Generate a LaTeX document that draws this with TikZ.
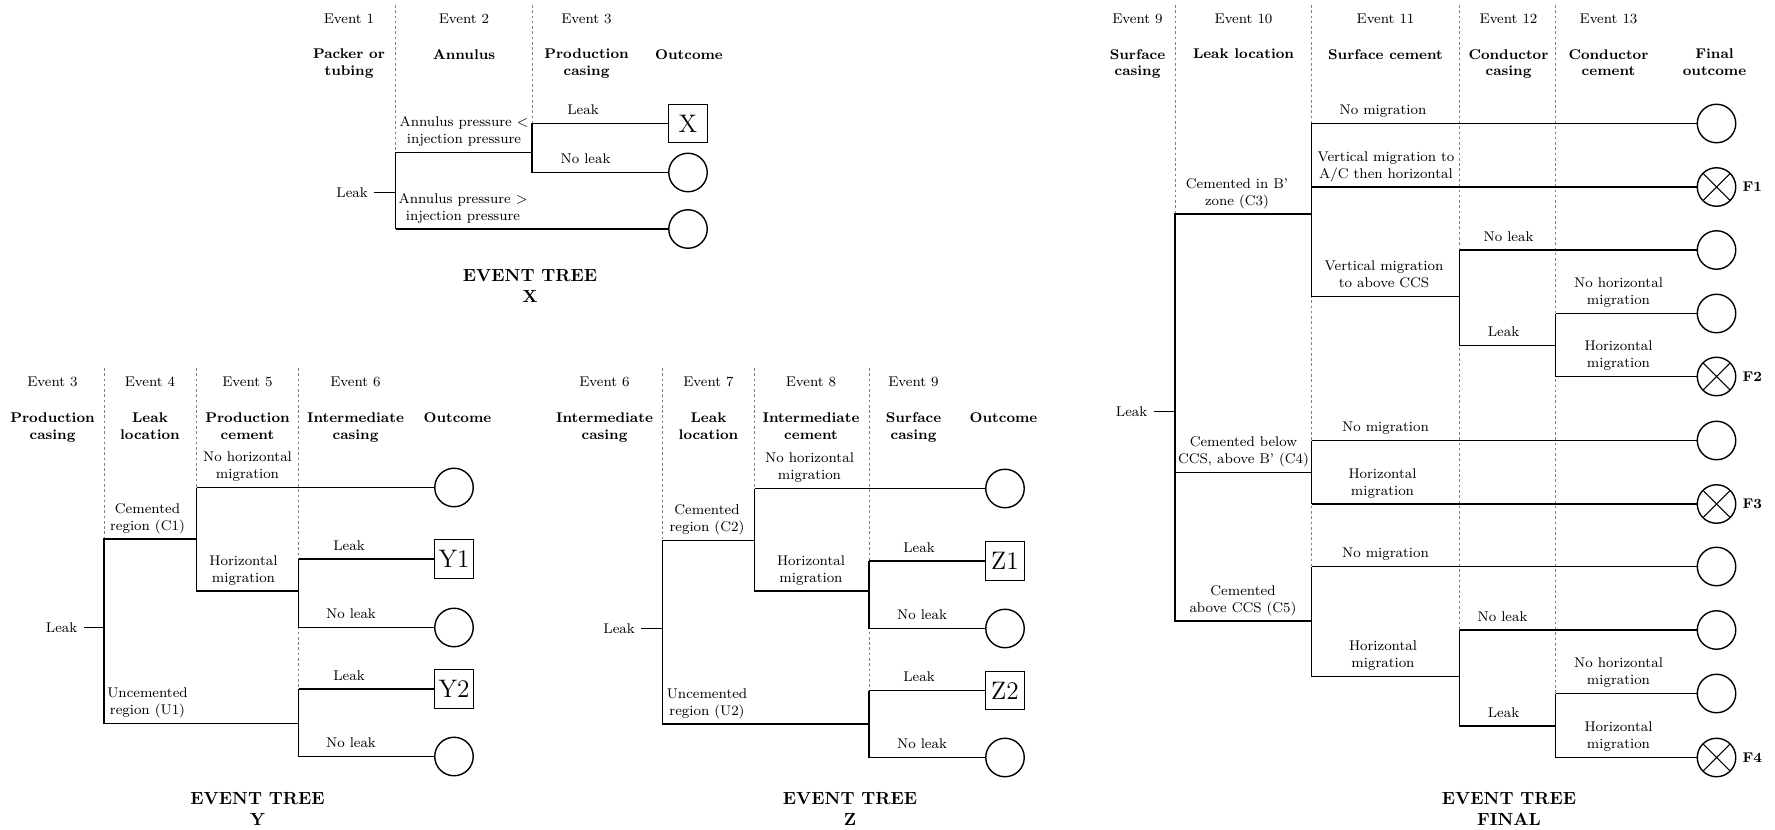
\documentclass[tikz,border=0pt]{standalone}
\usepackage{amsmath}
\usetikzlibrary{positioning}

\tikzset{
  branch/.style={line width=1.1pt},
  colsep/.style={gray, very thin, dash pattern=on 1.5pt off 1.5pt},
  evt/.style={font=\footnotesize},
  head/.style={font=\footnotesize\bfseries, align=center, anchor=north},
  lab/.style={above, font=\footnotesize, align=center, text depth=0.15em},
  leaf/.style={draw, circle, thick, minimum size=0.77cm, inner sep=0pt},
  endbox/.style={draw, thick, minimum size=0.77cm, inner sep=1pt, font=\Large},
  fail/.style={leaf, path picture={\draw[semithick] (path picture bounding box.north west) -- (path picture bounding box.south east) (path picture bounding box.north east) -- (path picture bounding box.south west);}},
  flab/.style={font=\footnotesize\bfseries},
  title/.style={font=\bfseries, align=center, anchor=north}
}

\begin{document}
\begin{tikzpicture}
\useasboundingbox (0,0) rectangle (35.5,-16.6);

\begin{scope}[xshift=7.91cm]
  \coordinate (topX) at (0,-0.1);
  \node (eX1) [evt] at (-0.93,-0.37) {Event 1};
  \node (eX2) [evt] at (1.37,-0.37) {Event 2};
  \node (eX3) [evt] at (3.82,-0.37) {Event 3};
  \node (hX1) [head] at (-0.93,-0.86) {Packer or\\tubing};
  \node (hX2) [head] at (1.37,-0.86) {Annulus};
  \node (hX3) [head] at (3.82,-0.86) {Production\\casing};
  \node (hX4) [head] at (5.87,-0.86) {Outcome};

  \coordinate (x0) at (0,-3.85);
  \coordinate (x1) at (0,-3.05);
  \coordinate (x2) at (0,-4.58);
  \coordinate (x3) at (2.73,-2.47);
  \coordinate (x4) at (2.73,-3.45);

  \node (oX) [endbox] at (5.85,-2.47) {X};
  \node (oX1) [leaf] at (5.85,-3.45) {};
  \node (oX2) [leaf] at (5.85,-4.58) {};
  \node (leakX) [evt, left=0.43cm of x0] {Leak};

  \draw[colsep] (topX) -- (x1);
  \draw[colsep] (x3 |- topX) -- (x3);

  \draw[branch] (leakX) -- (x0);
  \draw[branch] (x2) -- (x1) -- (x1 -| x3);
  \draw[branch] (x3) -- (x4);
  \draw[branch] (x3) -- (oX);
  \draw[branch] (x4) -- (oX1);
  \draw[branch] (x2) -- (oX2);

  \node (lX1) [lab] at (1.37,-3.05) {Annulus pressure $<$\\injection pressure};
  \node (lX2) [lab] at (1.35,-4.58) {Annulus pressure $>$\\injection pressure};
  \node (lX3) [lab] at (3.75,-2.47) {Leak};
  \node (lX4) [lab] at (3.8,-3.45) {No leak};

  \node (tX) [title] at (2.69,-5.27) {EVENT TREE\\X};
\end{scope}

\begin{scope}[xshift=2.08cm]
  \coordinate (topY) at (0,-7.36);
  \node (eY1) [evt] at (-1.03,-7.63) {Event 3};
  \node (eY2) [evt] at (0.92,-7.63) {Event 4};
  \node (eY3) [evt] at (2.87,-7.63) {Event 5};
  \node (eY4) [evt] at (5.03,-7.63) {Event 6};
  \node (hY1) [head] at (-1.03,-8.13) {Production\\casing};
  \node (hY2) [head] at (0.92,-8.13) {Leak\\location};
  \node (hY3) [head] at (2.87,-8.13) {Production\\cement};
  \node (hY4) [head] at (5.03,-8.13) {Intermediate\\casing};
  \node (hY5) [head] at (7.07,-8.13) {Outcome};

  \coordinate (y0) at (0,-12.55);
  \coordinate (y1) at (0,-10.78);
  \coordinate (y2) at (0,-14.47);
  \coordinate (y3) at (1.85,-9.75);
  \coordinate (y4) at (1.85,-11.82);
  \coordinate (y5) at (3.89,-11.18);
  \coordinate (y6) at (3.89,-12.55);
  \coordinate (y7) at (3.89,-13.78);
  \coordinate (y8) at (3.89,-15.13);

  \node (oY1) [leaf] at (7.0,-9.75) {};
  \node (oYa) [endbox] at (7.0,-11.18) {Y1};
  \node (oY2) [leaf] at (7.0,-12.55) {};
  \node (oYb) [endbox] at (7.0,-13.78) {Y2};
  \node (oY3) [leaf] at (7.0,-15.13) {};
  \node (leakY) [evt, left=0.41cm of y0] {Leak};

  \draw[colsep] (topY) -- (y1);
  \draw[colsep] (y3 |- topY) -- (y3);
  \draw[colsep] (y7 |- topY) -- (y7);

  \draw[branch] (leakY) -- (y0);
  \draw[branch] (y1 -| y3) -- (y1) -- (y2) -- (y2 -| y7);
  \draw[branch] (y3) -- (y4) -- (y4 -| y5);
  \draw[branch] (y5) -- (y6);
  \draw[branch] (y7) -- (y8);
  \draw[branch] (y3) -- (oY1);
  \draw[branch] (y5) -- (oYa);
  \draw[branch] (y6) -- (oY2);
  \draw[branch] (y7) -- (oYb);
  \draw[branch] (y8) -- (oY3);

  \node (lY1) [lab] at (0.87,-10.78) {Cemented\\region (C1)};
  \node (lY2) [lab] at (0.87,-14.47) {Uncemented\\region (U1)};
  \node (lY3) [lab] at (2.87,-9.75) {No horizontal\\migration};
  \node (lY4) [lab] at (2.79,-11.82) {Horizontal\\migration};
  \node (lY5) [lab] at (4.9,-11.18) {Leak};
  \node (lY6) [lab] at (4.94,-12.55) {No leak};
  \node (lY7) [lab] at (4.9,-13.78) {Leak};
  \node (lY8) [lab] at (4.94,-15.13) {No leak};

  \node (tY) [title] at (3.07,-15.72) {EVENT TREE\\Y};
\end{scope}

\begin{scope}[xshift=13.25cm]
  \coordinate (topZ) at (0,-7.36);
  \node (eZ1) [evt] at (-1.16,-7.63) {Event 6};
  \node (eZ2) [evt] at (0.92,-7.63) {Event 7};
  \node (eZ3) [evt] at (2.97,-7.63) {Event 8};
  \node (eZ4) [evt] at (5.02,-7.63) {Event 9};
  \node (hZ1) [head] at (-1.16,-8.13) {Intermediate\\casing};
  \node (hZ2) [head] at (0.92,-8.13) {Leak\\location};
  \node (hZ3) [head] at (2.97,-8.13) {Intermediate\\cement};
  \node (hZ4) [head] at (5.02,-8.13) {Surface\\casing};
  \node (hZ5) [head] at (6.82,-8.13) {Outcome};

  \coordinate (z0) at (0,-12.57);
  \coordinate (z1) at (0,-10.81);
  \coordinate (z2) at (0,-14.48);
  \coordinate (z3) at (1.84,-9.77);
  \coordinate (z4) at (1.84,-11.82);
  \coordinate (z5) at (4.13,-11.22);
  \coordinate (z6) at (4.13,-12.57);
  \coordinate (z7) at (4.13,-13.81);
  \coordinate (z8) at (4.13,-15.15);

  \node (oZ1) [leaf] at (6.85,-9.77) {};
  \node (oZa) [endbox] at (6.85,-11.22) {Z1};
  \node (oZ2) [leaf] at (6.85,-12.57) {};
  \node (oZb) [endbox] at (6.85,-13.81) {Z2};
  \node (oZ3) [leaf] at (6.85,-15.15) {};
  \node (leakZ) [evt, left=0.43cm of z0] {Leak};

  \draw[colsep] (topZ) -- (z1);
  \draw[colsep] (z3 |- topZ) -- (z3);
  \draw[colsep] (z7 |- topZ) -- (z7);

  \draw[branch] (leakZ) -- (z0);
  \draw[branch] (z1 -| z3) -- (z1) -- (z2) -- (z2 -| z7);
  \draw[branch] (z3) -- (z4) -- (z4 -| z5);
  \draw[branch] (z5) -- (z6);
  \draw[branch] (z7) -- (z8);
  \draw[branch] (z3) -- (oZ1);
  \draw[branch] (z5) -- (oZa);
  \draw[branch] (z6) -- (oZ2);
  \draw[branch] (z7) -- (oZb);
  \draw[branch] (z8) -- (oZ3);

  \node (lZ1) [lab] at (0.89,-10.81) {Cemented\\region (C2)};
  \node (lZ2) [lab] at (0.89,-14.48) {Uncemented\\region (U2)};
  \node (lZ3) [lab] at (2.94,-9.77) {No horizontal\\migration};
  \node (lZ4) [lab] at (2.97,-11.82) {Horizontal\\migration};
  \node (lZ5) [lab] at (5.13,-11.22) {Leak};
  \node (lZ6) [lab] at (5.19,-12.57) {No leak};
  \node (lZ7) [lab] at (5.13,-13.81) {Leak};
  \node (lZ8) [lab] at (5.19,-15.15) {No leak};

  \node (tZ) [title] at (3.75,-15.72) {EVENT TREE\\Z};
\end{scope}

\begin{scope}[xshift=23.5cm]
  \coordinate (topF) at (0,-0.1);
  \node (eF1) [evt] at (-0.75,-0.37) {Event 9};
  \node (eF2) [evt] at (1.37,-0.37) {Event 10};
  \node (eF3) [evt] at (4.21,-0.37) {Event 11};
  \node (eF4) [evt] at (6.67,-0.37) {Event 12};
  \node (eF5) [evt] at (8.67,-0.37) {Event 13};
  \node (hF1) [head] at (-0.75,-0.86) {Surface\\casing};
  \node (hF2) [head] at (1.37,-0.86) {Leak location};
  \node (hF3) [head] at (4.21,-0.86) {Surface cement};
  \node (hF4) [head] at (6.67,-0.86) {Conductor\\casing};
  \node (hF5) [head] at (8.67,-0.86) {Conductor\\cement};
  \node (hF6) [head] at (10.79,-0.86) {Final\\outcome};

  \coordinate (f0) at (0,-8.23);
  \coordinate (f1) at (0,-4.28);
  \coordinate (f2) at (0,-9.45);
  \coordinate (f3) at (0,-12.42);
  \coordinate (f4) at (2.73,-2.47);
  \coordinate (f5) at (2.73,-3.74);
  \coordinate (f6) at (2.73,-5.93);
  \coordinate (f7) at (5.69,-5.0);
  \coordinate (f8) at (5.69,-6.91);
  \coordinate (f9) at (7.61,-6.27);
  \coordinate (f10) at (7.61,-7.53);
  \coordinate (f11) at (2.73,-8.81);
  \coordinate (f12) at (2.73,-10.08);
  \coordinate (f13) at (2.73,-11.33);
  \coordinate (f14) at (2.73,-13.53);
  \coordinate (f15) at (5.69,-12.6);
  \coordinate (f16) at (5.69,-14.52);
  \coordinate (f17) at (7.61,-13.87);
  \coordinate (f18) at (7.61,-15.15);

  \node (oF1) [leaf] at (10.83,-2.47) {};
  \node (fF1) [fail] at (10.83,-3.74) {};
  \node (oF2) [leaf] at (10.83,-5.0) {};
  \node (oF3) [leaf] at (10.83,-6.27) {};
  \node (fF2) [fail] at (10.83,-7.53) {};
  \node (oF4) [leaf] at (10.83,-8.81) {};
  \node (fF3) [fail] at (10.83,-10.08) {};
  \node (oF5) [leaf] at (10.83,-11.33) {};
  \node (oF6) [leaf] at (10.83,-12.6) {};
  \node (oF7) [leaf] at (10.83,-13.87) {};
  \node (fF4) [fail] at (10.83,-15.15) {};
  \node (leakF) [evt, left=0.43cm of f0] {Leak};

  \node (nF1) [flab, right=0pt of fF1] {F1};
  \node (nF2) [flab, right=0pt of fF2] {F2};
  \node (nF3) [flab, right=0pt of fF3] {F3};
  \node (nF4) [flab, right=0pt of fF4] {F4};

  \draw[colsep] (topF) -- (f1);
  \draw[colsep] (f4 |- topF) -- (f13);
  \draw[colsep] (f7 |- topF) -- (f15);
  \draw[colsep] (f9 |- topF) -- (f17);

  \draw[branch] (leakF) -- (f0);
  \draw[branch] (f1 -| f4) -- (f1) -- (f3) -- (f3 -| f13);
  \draw[branch] (f2) -- (f2 -| f11);

  \draw[branch] (f4) -- (f6) -- (f6 -| f7);
  \draw[branch] (f7) -- (f8) -- (f8 -| f9);
  \draw[branch] (f9) -- (f10);
  \draw[branch] (f4) -- (oF1);
  \draw[branch] (f5) -- (fF1);
  \draw[branch] (f7) -- (oF2);
  \draw[branch] (f9) -- (oF3);
  \draw[branch] (f10) -- (fF2);

  \draw[branch] (f11) -- (f12);
  \draw[branch] (f11) -- (oF4);
  \draw[branch] (f12) -- (fF3);

  \draw[branch] (f13) -- (f14) -- (f14 -| f15);
  \draw[branch] (f15) -- (f16) -- (f16 -| f17);
  \draw[branch] (f17) -- (f18);
  \draw[branch] (f13) -- (oF5);
  \draw[branch] (f15) -- (oF6);
  \draw[branch] (f17) -- (oF7);
  \draw[branch] (f18) -- (fF4);

  \node (lF1) [lab] at (1.24,-4.28) {Cemented in B'\\zone (C3)};
  \node (lF2) [lab] at (1.37,-9.45) {Cemented below\\CCS, above B' (C4)};
  \node (lF3) [lab] at (1.36,-12.42) {Cemented\\above CCS (C5)};
  \node (lF4) [lab] at (4.16,-2.47) {No migration};
  \node (lF5) [lab] at (4.22,-3.74) {Vertical migration to\\A/C then horizontal};
  \node (lF6) [lab] at (4.18,-5.93) {Vertical migration\\to above CCS};
  \node (lF7) [lab] at (6.67,-5.0) {No leak};
  \node (lF8) [lab] at (6.57,-6.91) {Leak};
  \node (lF9) [lab] at (8.87,-6.27) {No horizontal\\migration};
  \node (lF10) [lab] at (8.87,-7.53) {Horizontal\\migration};
  \node (lF11) [lab] at (4.21,-8.81) {No migration};
  \node (lF12) [lab] at (4.15,-10.08) {Horizontal\\migration};
  \node (lF13) [lab] at (4.21,-11.33) {No migration};
  \node (lF14) [lab] at (4.16,-13.53) {Horizontal\\migration};
  \node (lF15) [lab] at (6.55,-12.6) {No leak};
  \node (lF16) [lab] at (6.57,-14.52) {Leak};
  \node (lF17) [lab] at (8.87,-13.87) {No horizontal\\migration};
  \node (lF18) [lab] at (8.87,-15.15) {Horizontal\\migration};

  \node (tF) [title] at (6.68,-15.72) {EVENT TREE\\FINAL};
\end{scope}
\end{tikzpicture}
\end{document}
